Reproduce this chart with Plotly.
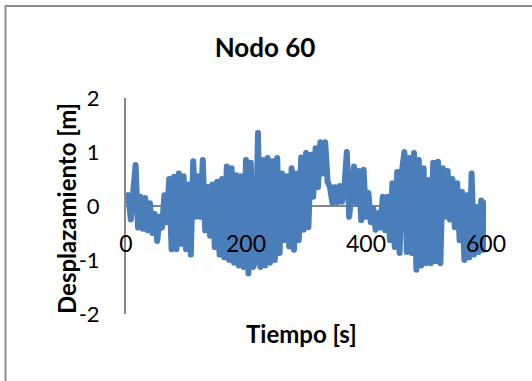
import numpy as np
import plotly.graph_objects as go

# time axis [s]
tiempo = np.arange(0, 601, 4)

# displacement [m]
desplazamiento = [
    0.10, 0.20, -0.25, 0.25, 0.76, -0.40, 0.17, -0.42, 0.15, -0.45,
    0.05, -0.50, -0.15, -0.65, -0.20, -0.40, 0.20, -0.30, 0.50, -0.80,
    0.54, -0.80, 0.60, -0.70, 0.55, -0.80, 0.40, -0.90, 0.83, -0.20,
    0.55, -0.20, 0.85, -0.45, 0.35, -0.55, 0.40, -0.76, 0.45, -0.90,
    0.50, -0.95, 0.73, -1.00, 0.70, -1.05, 0.57, -1.10, 0.55, -1.13,
    0.85, -1.25, 0.80, -1.13, -1.00, 1.35, -1.13, 0.85, -1.10, 0.89,
    -1.05, 0.83, -1.00, 0.89, -0.87, 0.60, -0.63, 0.55, -0.75, 0.70,
    -0.81, 0.60, -0.63, 0.90, -0.44, 0.98, -0.39, 0.95, 0.17, 1.07,
    0.35, 1.18, 0.60, 1.18, 0.45, 0.35, 0.06, 0.35, 0.07, 0.37,
    0.08, 0.35, 1.00, -0.20, 0.45, 0.73, 0.05, 0.65, -0.26, 0.67,
    -0.20, 0.24, -0.30, -0.04, -0.44, -0.13, -0.40, 0.17, -0.45, 0.17,
    -0.63, 0.42, -0.76, 0.63, -0.87, 0.65, 1.00, -0.85, 0.89, -0.87,
    0.98, -1.18, 0.85, -1.10, 0.70, -1.06, 0.48, -1.06, 0.80, -1.02,
    0.82, -1.06, 0.70, -0.20, 0.65, -0.25, 0.50, -0.39, 0.42, -0.63,
    0.26, -1.00, 0.20, -0.95, 0.60, -0.90, -0.02, -0.85, 0.10, -0.81,
    0.05,
]

x_ticks = [0, 200, 400, 600]
y_ticks = [-2, -1, 0, 1, 2]
y_tick_text = ["-2", "-1", "0", "1", "2"]

FONT = "Lato"
GRAY = "#878787"
BLUE = "#4A7EBB"

fig = go.Figure()
fig.add_trace(go.Scatter(
    x=tiempo, y=desplazamiento, mode="lines",
    line=dict(color=BLUE, width=6), showlegend=False, hoverinfo="skip",
))

fig.update_layout(
    width=532, height=381,
    margin=dict(l=126, r=46, t=98, b=67),
    paper_bgcolor="white", plot_bgcolor="white",
    font=dict(family=FONT, color="black"),
    title=dict(text="<b>Nodo 60</b>", x=265 / 532, xanchor="center",
               y=1 - 48 / 381, yanchor="middle",
               font=dict(size=26, family=FONT, color="black")),
    xaxis=dict(range=[0, 600], tickvals=x_ticks, showgrid=False,
               zeroline=False, showline=False, ticks="",
               anchor="free", position=0.40,
               tickfont=dict(size=23, family=FONT, color="black")),
    yaxis=dict(range=[-2, 2], tickvals=y_ticks, ticktext=y_tick_text,
               showgrid=False,
               zeroline=True, zerolinecolor=GRAY, zerolinewidth=2,
               showline=True, linecolor=GRAY, linewidth=2, ticks="",
               ticklabelstandoff=20,
               tickfont=dict(size=22, family=FONT, color="black")),
    shapes=[dict(type="rect", xref="paper", yref="paper",
                 x0=(5.5 - 126) / 360, x1=1.3, y0=-0.6, y1=(314 - 6) / 216,
                 line=dict(color="#8c8c8c", width=2), layer="below")],
    annotations=[
        dict(text="<b>Desplazamiento [m]</b>", xref="paper", yref="paper",
             x=(66 - 126) / 360, y=(314 - 209) / 216, textangle=-90,
             showarrow=False, xanchor="center", yanchor="middle",
             font=dict(size=24, family=FONT, color="black")),
        dict(text="<b>Tiempo [s]</b>", xref="paper", yref="paper",
             x=(301 - 126) / 360, y=(314 - 333) / 216,
             showarrow=False, xanchor="center", yanchor="middle",
             font=dict(size=24, family=FONT, color="black")),
    ],
)

post = (
    "document.body.style.margin='0px';"
    "document.querySelectorAll('.js-line').forEach(function(p){"
    "p.style.strokeLinejoin='round';p.style.strokeLinecap='round';});"
)
fig.write_html("out.html", post_script=post,
               config={"displayModeBar": False, "staticPlot": True})
